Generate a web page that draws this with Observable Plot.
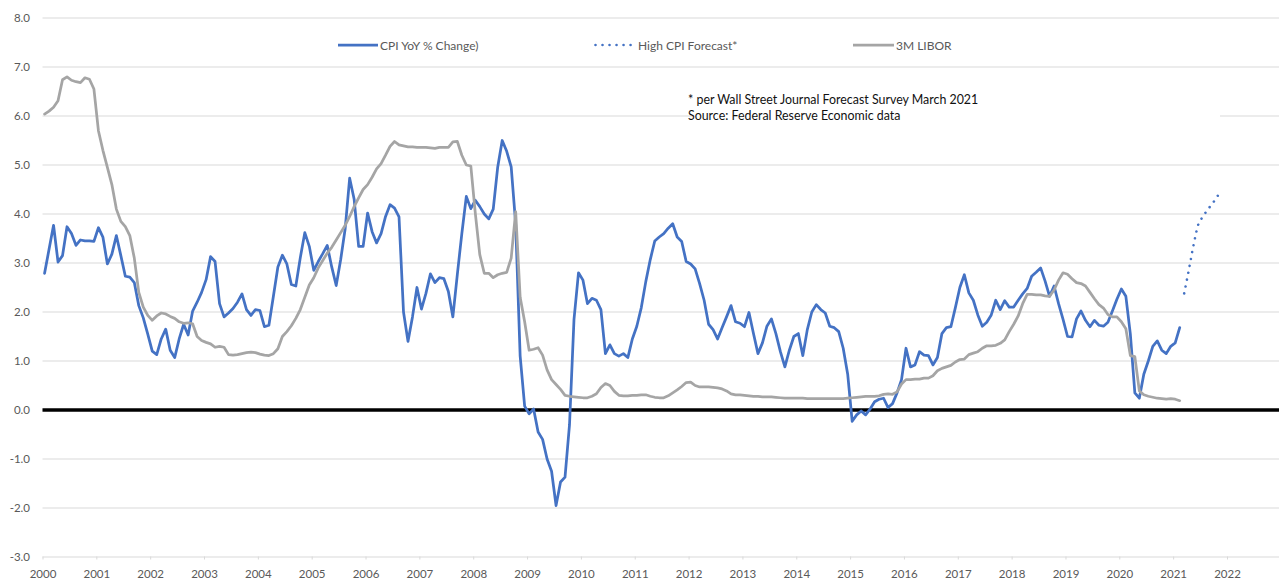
<!DOCTYPE html>
<html><head><meta charset="utf-8">
<script src="https://cdn.jsdelivr.net/npm/d3@7"></script>
<script src="https://cdn.jsdelivr.net/npm/@observablehq/plot@0.6"></script>
<style>
body{margin:0;background:#fff;}
#wrap{position:relative;width:1279px;height:580px;font-family:Lato,"Open Sans",sans-serif;overflow:hidden;}
.leg{position:absolute;top:37px;height:16px;display:flex;align-items:center;font-size:12px;color:#595959;white-space:nowrap;}
.leg svg{display:block;}
#note{position:absolute;left:693px;top:92px;width:527px;height:34px;background:#fff;font-size:12.4px;color:#111;line-height:16px;}
#note div{margin-left:-5px;}
</style></head><body><div id="wrap"></div>
<script>
// Monthly series, starting January 2000
const startYear = 2000;
const cpi = [
  2.79, 3.28, 3.77, 3.02, 3.15, 3.74, 3.60, 3.36, 3.47, 3.45, 3.45, 3.44, // 2000
  3.72, 3.53, 2.98, 3.18, 3.56, 3.15, 2.73, 2.71, 2.60, 2.13, 1.88, 1.55, // 2001
  1.20, 1.13, 1.45, 1.65, 1.22, 1.07, 1.45, 1.75, 1.53, 2.02, 2.20, 2.40, // 2002
  2.66, 3.13, 3.03, 2.17, 1.90, 1.98, 2.07, 2.20, 2.37, 2.05, 1.93, 2.05, // 2003
  2.03, 1.70, 1.73, 2.32, 2.92, 3.16, 2.98, 2.56, 2.53, 3.11, 3.62, 3.34, // 2004
  2.85, 3.03, 3.19, 3.36, 2.92, 2.54, 3.07, 3.70, 4.73, 4.30, 3.34, 3.34, // 2005
  4.02, 3.64, 3.41, 3.60, 3.95, 4.19, 4.12, 3.94, 2.00, 1.40, 1.90, 2.50, // 2006
  2.06, 2.38, 2.78, 2.60, 2.70, 2.68, 2.42, 1.90, 2.77, 3.60, 4.36, 4.11, // 2007
  4.28, 4.15, 4.00, 3.90, 4.10, 4.96, 5.50, 5.28, 4.96, 3.80, 1.10, 0.08, // 2008
  -0.08, 0.02, -0.45, -0.60, -1.00, -1.25, -1.95, -1.47, -1.37, -0.30, 1.85, 2.80, // 2009
  2.65, 2.17, 2.28, 2.24, 2.05, 1.15, 1.33, 1.15, 1.10, 1.15, 1.07, 1.45, // 2010
  1.71, 2.09, 2.62, 3.07, 3.45, 3.53, 3.60, 3.71, 3.80, 3.53, 3.44, 3.03, // 2011
  2.98, 2.88, 2.58, 2.24, 1.75, 1.64, 1.45, 1.68, 1.90, 2.13, 1.80, 1.77, // 2012
  1.70, 1.99, 1.56, 1.15, 1.37, 1.71, 1.86, 1.56, 1.19, 0.88, 1.22, 1.50, // 2013
  1.56, 1.11, 1.64, 2.00, 2.15, 2.05, 1.98, 1.71, 1.68, 1.60, 1.26, 0.73, // 2014
  -0.23, -0.10, -0.02, -0.10, 0.02, 0.17, 0.22, 0.24, 0.05, 0.13, 0.35, 0.62, // 2015
  1.26, 0.88, 0.92, 1.19, 1.12, 1.11, 0.92, 1.07, 1.56, 1.68, 1.70, 2.09, // 2016
  2.50, 2.76, 2.39, 2.24, 1.94, 1.71, 1.79, 1.94, 2.24, 2.05, 2.23, 2.10, // 2017
  2.10, 2.24, 2.37, 2.48, 2.73, 2.81, 2.90, 2.63, 2.32, 2.53, 2.17, 1.85, // 2018
  1.50, 1.49, 1.86, 2.02, 1.83, 1.70, 1.83, 1.73, 1.71, 1.79, 2.02, 2.26, // 2019
  2.47, 2.32, 1.55, 0.35, 0.24, 0.73, 1.00, 1.30, 1.41, 1.22, 1.15, 1.30, // 2020
  1.37, 1.68 // 2021
];
const libor = [
  6.04, 6.10, 6.18, 6.31, 6.74, 6.80, 6.73, 6.70, 6.68, 6.78, 6.75, 6.55, // 2000
  5.70, 5.30, 4.95, 4.60, 4.10, 3.85, 3.74, 3.56, 3.10, 2.40, 2.10, 1.93, // 2001
  1.83, 1.92, 1.98, 1.96, 1.91, 1.87, 1.80, 1.77, 1.78, 1.76, 1.50, 1.42, // 2002
  1.38, 1.35, 1.28, 1.30, 1.28, 1.13, 1.12, 1.13, 1.15, 1.17, 1.18, 1.17, // 2003
  1.14, 1.12, 1.11, 1.15, 1.25, 1.50, 1.60, 1.72, 1.87, 2.05, 2.30, 2.55, // 2004
  2.70, 2.90, 3.05, 3.20, 3.32, 3.47, 3.62, 3.77, 3.95, 4.15, 4.33, 4.50, // 2005
  4.60, 4.75, 4.92, 5.03, 5.20, 5.38, 5.48, 5.41, 5.39, 5.37, 5.37, 5.36, // 2006
  5.36, 5.36, 5.35, 5.34, 5.36, 5.36, 5.36, 5.47, 5.48, 5.20, 5.00, 4.98, // 2007
  4.02, 3.17, 2.79, 2.79, 2.70, 2.76, 2.79, 2.81, 3.10, 4.05, 2.30, 1.80, // 2008
  1.22, 1.24, 1.27, 1.12, 0.82, 0.62, 0.52, 0.42, 0.30, 0.28, 0.27, 0.26, // 2009
  0.25, 0.25, 0.28, 0.33, 0.46, 0.54, 0.50, 0.38, 0.30, 0.29, 0.29, 0.30, // 2010
  0.30, 0.31, 0.31, 0.28, 0.26, 0.25, 0.25, 0.29, 0.35, 0.41, 0.48, 0.56, // 2011
  0.57, 0.50, 0.47, 0.47, 0.47, 0.46, 0.45, 0.43, 0.39, 0.33, 0.31, 0.31, // 2012
  0.30, 0.29, 0.28, 0.28, 0.27, 0.27, 0.27, 0.26, 0.25, 0.24, 0.24, 0.24, // 2013
  0.24, 0.24, 0.23, 0.23, 0.23, 0.23, 0.23, 0.23, 0.23, 0.23, 0.23, 0.24, // 2014
  0.25, 0.26, 0.27, 0.28, 0.28, 0.28, 0.29, 0.32, 0.33, 0.32, 0.37, 0.53, // 2015
  0.62, 0.62, 0.63, 0.63, 0.65, 0.65, 0.70, 0.80, 0.85, 0.88, 0.91, 0.98, // 2016
  1.03, 1.04, 1.13, 1.16, 1.19, 1.26, 1.31, 1.31, 1.32, 1.36, 1.43, 1.60, // 2017
  1.75, 1.92, 2.17, 2.36, 2.36, 2.35, 2.35, 2.33, 2.32, 2.45, 2.65, 2.80, // 2018
  2.77, 2.68, 2.60, 2.58, 2.53, 2.40, 2.27, 2.15, 2.08, 1.95, 1.90, 1.90, // 2019
  1.80, 1.66, 1.11, 1.09, 0.39, 0.31, 0.28, 0.26, 0.24, 0.23, 0.22, 0.23, // 2020
  0.22, 0.19 // 2021
];
// High CPI forecast, monthly from March 2021
const forecastStartIndex = 254;
const forecast = [2.38, 2.84, 3.33, 3.76, 3.93, 4.06, 4.18, 4.30, 4.45];

const xTicks = d3.range(2000, 2023);
const yTicks = d3.range(-3, 9);
const seriesNames = ["CPI YoY % Change)", "High CPI Forecast*", "3M LIBOR"];
const colors = ["#4472C4", "#4472C4", "#A5A5A5"];
const noteLines = ["* per Wall Street Journal Forecast Survey March 2021", "Source: Federal Reserve Economic data"];

const toYear = i => startYear + (i + 0.35) / 12;
const cpiData = cpi.map((v, i) => ({x: toYear(i), y: v}));
const liborData = libor.map((v, i) => ({x: toYear(i), y: v}));
const fcData = forecast.map((v, i) => ({x: toYear(forecastStartIndex + i), y: v}));

const chart = Plot.plot({
  width: 1279, height: 580,
  marginLeft: 42.5, marginRight: 0, marginTop: 17.5, marginBottom: 23.5,
  x: {domain: [2000, 2022.966]},
  y: {domain: [-3, 8]},
  style: {fontFamily: "Lato, 'Open Sans', sans-serif", fontSize: "11.5px", color: "#595959", background: "#fff"},
  marks: [
    Plot.ruleY(yTicks, {stroke: "#d9d9d9", strokeWidth: 1}),
    Plot.axisY({ticks: yTicks, tickSize: 0, tickPadding: 13, tickFormat: d => d.toFixed(1), label: null, fill: "#595959"}),
    Plot.axisX({ticks: xTicks, tickSize: 3, tickPadding: 10, stroke: "#d9d9d9", fill: "#595959", tickFormat: d => String(d), label: null}),
    Plot.ruleY([0], {stroke: "#000", strokeWidth: 3.5}),
    Plot.line(cpiData, {x: "x", y: "y", stroke: colors[0], strokeWidth: 2.75, strokeLinejoin: "round", strokeLinecap: "round"}),
    Plot.line(fcData, {x: "x", y: "y", stroke: colors[1], strokeWidth: 2.6, strokeLinecap: "round", strokeDasharray: "0.01 7"}),
    Plot.line(liborData, {x: "x", y: "y", stroke: colors[2], strokeWidth: 2.75, strokeLinejoin: "round", strokeLinecap: "round"})
  ]
});
const wrap = document.getElementById("wrap");
wrap.appendChild(chart);

// legend (inside plot area)
const legPos = [{sx: 338, sw: 40, tx: 380, dash: null}, {sx: 594, sw: 37, tx: 638, dash: "0.01 7"}, {sx: 853, sw: 41, tx: 896, dash: null}];
seriesNames.forEach((name, i) => {
  const p = legPos[i];
  const el = document.createElement("div");
  el.className = "leg";
  el.style.left = p.sx + "px";
  const w = p.tx - p.sx;
  el.innerHTML = `<svg width="${w}" height="16"><line x1="${p.dash ? 1.5 : 0}" x2="${p.sw}" y1="8" y2="8" stroke="${colors[i]}" stroke-width="${p.dash ? 2.6 : 2.75}" stroke-linecap="${p.dash ? "round" : "butt"}" ${p.dash ? `stroke-dasharray="${p.dash}"` : ""}/></svg><span>${name}</span>`;
  wrap.appendChild(el);
});
const note = document.createElement("div");
note.id = "note";
note.innerHTML = noteLines.map(t => `<div>${t}</div>`).join("");
wrap.appendChild(note);
</script></body></html>
